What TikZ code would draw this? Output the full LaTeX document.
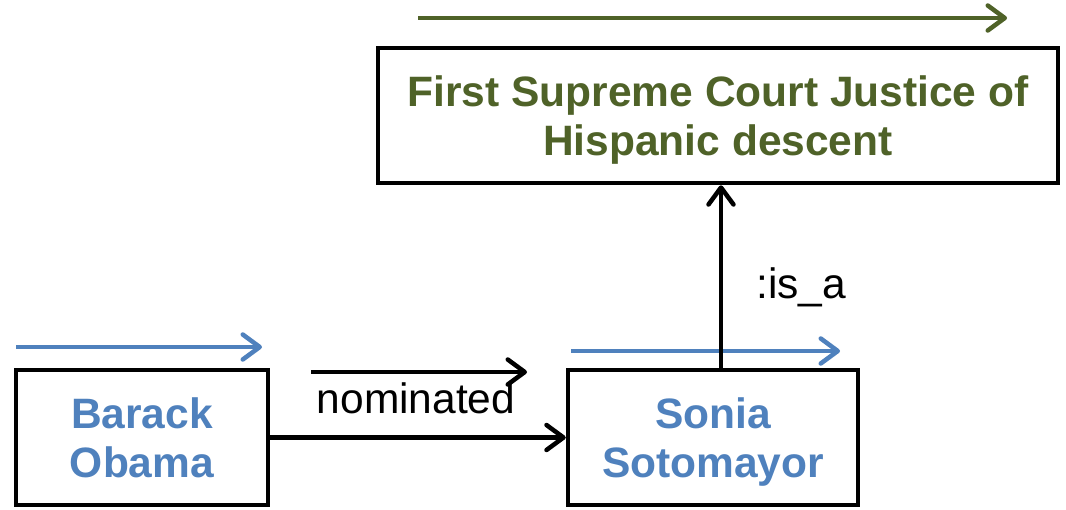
\documentclass[tikz,border=0pt]{standalone}
\usepackage{fontspec}
\setmainfont{Liberation Sans}
\usetikzlibrary{arrows.meta}
\definecolor{entityblue}{HTML}{4F81BD}
\definecolor{classgreen}{HTML}{4F6228}
\tikzset{
  chev/.tip={Straight Barb[length=17pt,width=25pt,line cap=round,line join=round]},
  entity/.style={draw=black, line width=4.5pt, rectangle, minimum height=135pt,
    inner sep=0pt, align=center, text depth=0pt,
    font=\fontsize{42.5}{49}\selectfont\bfseries},
  link/.style={line width=4.5pt, -chev},
  dirarrow/.style={line width=4.5pt, -chev},
  lbl/.style={font=\fontsize{42.5}{49}\selectfont, inner sep=0pt}
}
\begin{document}
\begin{tikzpicture}[x=1pt,y=-1pt]
\useasboundingbox[fill=white] (0,0) rectangle (1066,509);

% entity boxes
\node[entity, minimum width=252pt, text=entityblue] (obama) at (142,437.5) {Barack\\Obama};
\node[entity, minimum width=290pt, text=entityblue] (soto) at (713,437.5) {Sonia\\Sotomayor};
\node[entity, minimum width=680pt, text=classgreen] (first) at (718,115.5) {First Supreme Court Justice of\\Hispanic descent};

% direction markers above the boxes and the edge label
\coordinate (g1) at (418,18);   \coordinate (g2) at (1007,18);
\coordinate (b1) at (16,347);   \coordinate (b2) at (262,347);
\coordinate (s1) at (571,351);  \coordinate (s2) at (840,351);
\coordinate (n1) at (311,372);  \coordinate (n2) at (527,372);
\draw[dirarrow, classgreen] (g1) -- (g2);
\draw[dirarrow, entityblue] (b1) -- (b2);
\draw[dirarrow, entityblue] (s1) -- (s2);
\draw[dirarrow, black] (n1) -- (n2);

% relations
\draw[link] (obama.east) -- (soto.west);
\node[lbl, anchor=base] (nom) at (416,413) {nominated};
\draw[link] ([xshift=8pt]soto.north) -- ([xshift=8pt]soto.north |- first.south);
\node[lbl, anchor=base west] (isa) at (756,298) {:is\_a};
\end{tikzpicture}
\end{document}
